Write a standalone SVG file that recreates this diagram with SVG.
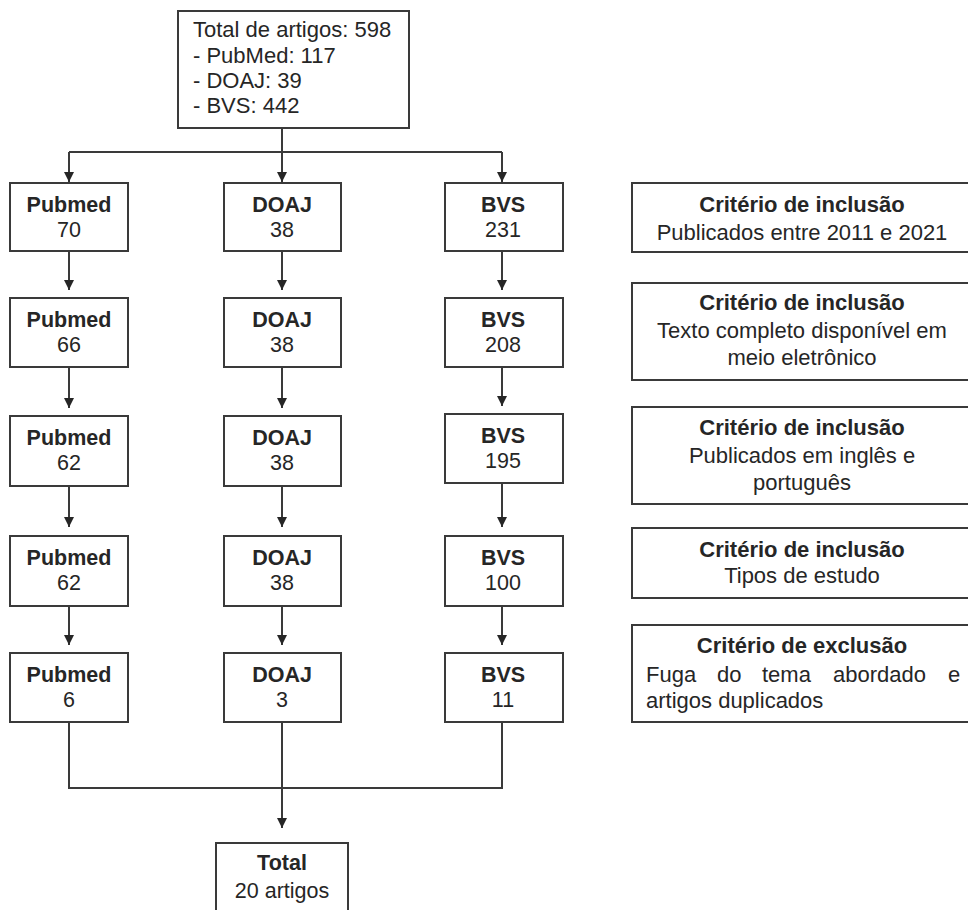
<svg xmlns="http://www.w3.org/2000/svg" width="968" height="910" viewBox="0 0 968 910">
<defs>
<style>
.box{fill:#fff;stroke:#3a3a3a;stroke-width:2}
.t{font-family:"Liberation Sans",Arial,sans-serif;fill:#262626}
.c{font-size:21.5px;text-anchor:middle}
.r{font-size:22px;text-anchor:middle}
.b{font-weight:bold}
.ln{fill:none;stroke:#3a3a3a;stroke-width:2}
</style>
<marker id="ah" markerUnits="userSpaceOnUse" markerWidth="12" markerHeight="12" viewBox="0 0 12 12" refX="11" refY="6" orient="auto">
<path d="M1,1 L11,6 L1,11 Z" fill="#262626"/>
</marker>
</defs>
<rect width="968" height="910" fill="#fff"/>

<g id="connectors">
<path class="ln" d="M282,128 V152 M69,152 H502"/>
<line class="ln" x1="69" y1="152" x2="69" y2="182" marker-end="url(#ah)"/>
<line class="ln" x1="282" y1="152" x2="282" y2="182" marker-end="url(#ah)"/>
<line class="ln" x1="502" y1="152" x2="502" y2="182" marker-end="url(#ah)"/>

<line class="ln" x1="69" y1="251" x2="69" y2="290" marker-end="url(#ah)"/>
<line class="ln" x1="282" y1="251" x2="282" y2="290" marker-end="url(#ah)"/>
<line class="ln" x1="502" y1="251" x2="502" y2="290" marker-end="url(#ah)"/>

<line class="ln" x1="69" y1="367" x2="69" y2="408" marker-end="url(#ah)"/>
<line class="ln" x1="282" y1="367" x2="282" y2="408" marker-end="url(#ah)"/>
<line class="ln" x1="502" y1="367" x2="502" y2="406" marker-end="url(#ah)"/>

<line class="ln" x1="69" y1="486" x2="69" y2="527" marker-end="url(#ah)"/>
<line class="ln" x1="282" y1="486" x2="282" y2="527" marker-end="url(#ah)"/>
<line class="ln" x1="502" y1="483" x2="502" y2="527" marker-end="url(#ah)"/>

<line class="ln" x1="69" y1="606" x2="69" y2="645" marker-end="url(#ah)"/>
<line class="ln" x1="282" y1="606" x2="282" y2="645" marker-end="url(#ah)"/>
<line class="ln" x1="502" y1="606" x2="502" y2="645" marker-end="url(#ah)"/>

<path class="ln" d="M69,722 V788 H502 V722"/>
<line class="ln" x1="282" y1="722" x2="282" y2="828" marker-end="url(#ah)"/>
</g>

<g id="top">
<rect class="box" x="178" y="11" width="231" height="117"/>
<text class="t" x="193" y="37" font-size="22">Total de artigos: 598</text>
<text class="t" x="193" y="63" font-size="22">- PubMed: 117</text>
<text class="t" x="193" y="88" font-size="22">- DOAJ: 39</text>
<text class="t" x="193" y="113" font-size="22">- BVS: 442</text>
</g>

<g id="pubmed1"><rect class="box" x="10" y="183" width="118" height="68"/><text class="t c b" x="69" y="212">Pubmed</text><text class="t c" x="69" y="237">70</text></g>
<g id="doaj1"><rect class="box" x="224" y="183" width="117" height="68"/><text class="t c b" x="282" y="212">DOAJ</text><text class="t c" x="282" y="237">38</text></g>
<g id="bvs1"><rect class="box" x="445" y="183" width="118" height="68"/><text class="t c b" x="503" y="212">BVS</text><text class="t c" x="503" y="237">231</text></g>

<g id="pubmed2"><rect class="box" x="10" y="298" width="118" height="69"/><text class="t c b" x="69" y="327">Pubmed</text><text class="t c" x="69" y="352">66</text></g>
<g id="doaj2"><rect class="box" x="224" y="298" width="117" height="69"/><text class="t c b" x="282" y="327">DOAJ</text><text class="t c" x="282" y="352">38</text></g>
<g id="bvs2"><rect class="box" x="445" y="298" width="118" height="69"/><text class="t c b" x="503" y="327">BVS</text><text class="t c" x="503" y="352">208</text></g>

<g id="pubmed3"><rect class="box" x="10" y="416" width="118" height="70"/><text class="t c b" x="69" y="445">Pubmed</text><text class="t c" x="69" y="470">62</text></g>
<g id="doaj3"><rect class="box" x="224" y="416" width="117" height="70"/><text class="t c b" x="282" y="445">DOAJ</text><text class="t c" x="282" y="470">38</text></g>
<g id="bvs3"><rect class="box" x="445" y="414" width="118" height="69"/><text class="t c b" x="503" y="443">BVS</text><text class="t c" x="503" y="468">195</text></g>

<g id="pubmed4"><rect class="box" x="10" y="536" width="118" height="70"/><text class="t c b" x="69" y="565">Pubmed</text><text class="t c" x="69" y="590">62</text></g>
<g id="doaj4"><rect class="box" x="224" y="536" width="117" height="70"/><text class="t c b" x="282" y="565">DOAJ</text><text class="t c" x="282" y="590">38</text></g>
<g id="bvs4"><rect class="box" x="445" y="536" width="118" height="70"/><text class="t c b" x="503" y="565">BVS</text><text class="t c" x="503" y="590">100</text></g>

<g id="pubmed5"><rect class="box" x="10" y="653" width="118" height="69"/><text class="t c b" x="69" y="682">Pubmed</text><text class="t c" x="69" y="707">6</text></g>
<g id="doaj5"><rect class="box" x="224" y="653" width="117" height="69"/><text class="t c b" x="282" y="682">DOAJ</text><text class="t c" x="282" y="707">3</text></g>
<g id="bvs5"><rect class="box" x="445" y="653" width="118" height="69"/><text class="t c b" x="503" y="682">BVS</text><text class="t c" x="503" y="707">11</text></g>

<g id="total"><rect class="box" x="216" y="843" width="132" height="80"/><text class="t c b" x="282" y="870">Total</text><text class="t c" x="282" y="898">20 artigos</text></g>

<g id="crit1"><rect class="box" x="632" y="183" width="345" height="69"/>
<text class="t r b" x="802" y="212">Critério de inclusão</text>
<text class="t r" x="802" y="240">Publicados entre 2011 e 2021</text></g>
<g id="crit2"><rect class="box" x="632" y="283" width="345" height="97"/>
<text class="t r b" x="802" y="310">Critério de inclusão</text>
<text class="t r" x="802" y="338">Texto completo disponível em</text>
<text class="t r" x="802" y="365">meio eletrônico</text></g>
<g id="crit3"><rect class="box" x="632" y="407" width="345" height="97"/>
<text class="t r b" x="802" y="435">Critério de inclusão</text>
<text class="t r" x="802" y="463">Publicados em inglês e</text>
<text class="t r" x="802" y="490">português</text></g>
<g id="crit4"><rect class="box" x="632" y="528" width="345" height="70"/>
<text class="t r b" x="802" y="557">Critério de inclusão</text>
<text class="t r" x="802" y="583">Tipos de estudo</text></g>
<g id="crit5"><rect class="box" x="632" y="625" width="345" height="97"/>
<text class="t r b" x="802" y="653">Critério de exclusão</text>
<text class="t" font-size="22" y="682"><tspan x="646">Fuga</tspan> <tspan x="717">do</tspan> <tspan x="762">tema</tspan> <tspan x="833">abordado</tspan> <tspan x="948">e</tspan></text>
<text class="t" font-size="22" x="646" y="708">artigos duplicados</text></g>
</svg>
